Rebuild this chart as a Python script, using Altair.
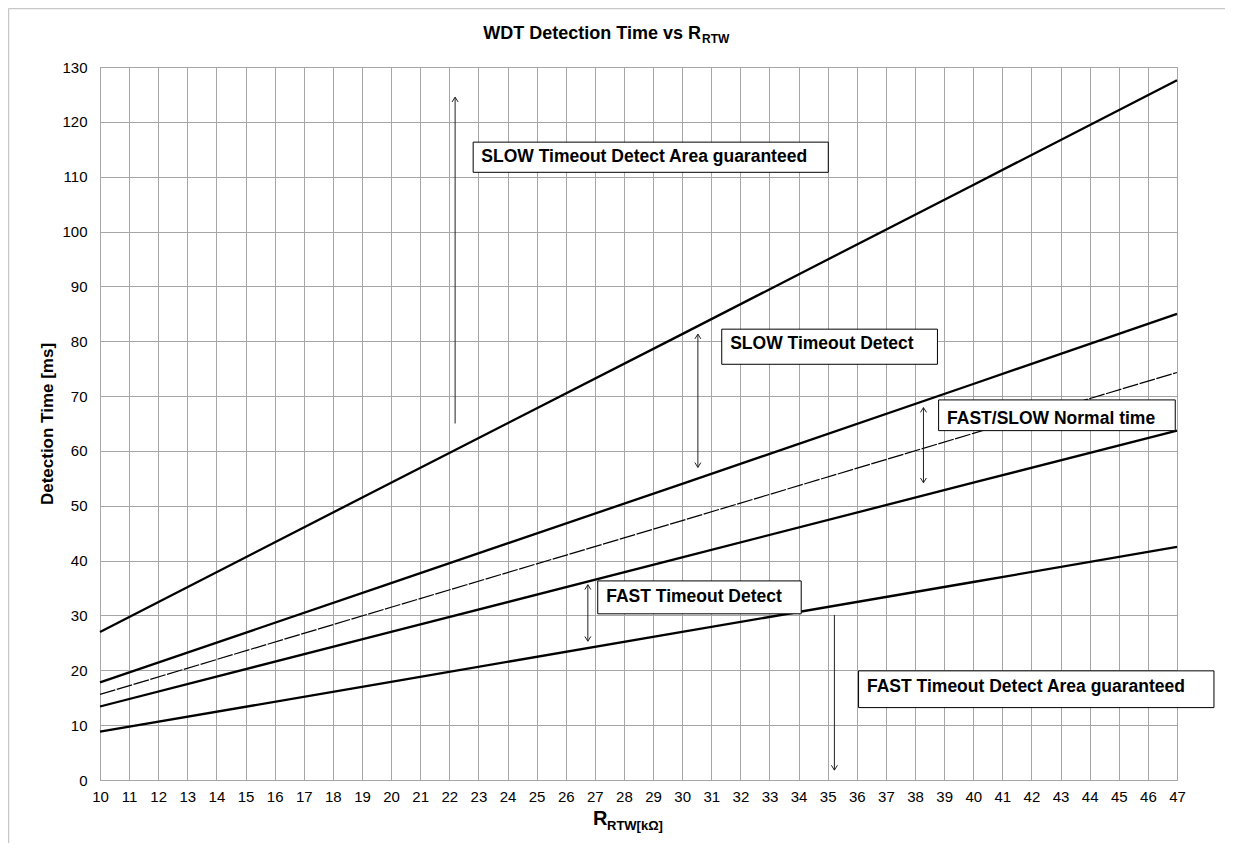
import altair as alt
import pandas as pd

# ---- data ----
R_pts = [10, 20, 30, 40, 47]
slow_max = [27.0, 54.2, 81.3, 108.5, 127.6]
slow_min = [17.8, 35.9, 54.0, 72.2, 85.0]
normal = [15.6, 31.5, 47.3, 63.2, 74.3]
fast_max = [13.4, 27.0, 40.6, 54.2, 63.7]
fast_min = [8.8, 17.9, 27.0, 36.1, 42.5]

x_ticks = list(range(10, 48))
y_ticks = list(range(0, 131, 10))

box_labels = ["SLOW Timeout Detect Area guaranteed", "SLOW Timeout Detect",
              "FAST/SLOW Normal time", "FAST Timeout Detect",
              "FAST Timeout Detect Area guaranteed"]
box_x1 = [22.82, 31.36, 38.81, 27.10, 36.06]
box_x2 = [35.02, 38.77, 46.94, 34.09, 48.27]
box_y1 = [116.3, 82.2, 69.3, 36.3, 19.9]
box_y2 = [110.8, 75.8, 63.7, 30.3, 13.2]
text_x = [23.10, 31.65, 39.10, 27.39, 36.35]
text_y = [112.7, 78.5, 65.0, 32.5, 16.0]

arrow_x = [22.2, 30.54, 38.29, 26.76, 35.23]
arrow_lo = [65.0, 57.0, 54.2, 25.3, 1.8]
arrow_hi = [124.5, 81.3, 67.9, 35.6, 30.1]
head_up = [True, True, True, True, False]
head_down = [False, True, True, True, True]

FONT = "Liberation Sans"

# ---- tables ----
solid_series = {"slow_max": slow_max, "slow_min": slow_min,
                "fast_max": fast_max, "fast_min": fast_min}
rows = []
for name, vals in solid_series.items():
    for r, v in zip(R_pts, vals):
        rows.append({"R": r, "v": v, "s": name})
solid_df = pd.DataFrame(rows)
dash_df = pd.DataFrame({"R": R_pts, "v": normal})

box_df = pd.DataFrame({"x1": box_x1, "x2": box_x2, "y1": box_y1, "y2": box_y2,
                       "tx": text_x, "ty": text_y, "label": box_labels})
arrow_df = pd.DataFrame({"x": arrow_x, "lo": arrow_lo, "hi": arrow_hi})
up_df = pd.DataFrame({"x": [a for a, u in zip(arrow_x, head_up) if u],
                      "y": [a for a, u in zip(arrow_hi, head_up) if u]})
down_df = pd.DataFrame({"x": [a for a, d in zip(arrow_x, head_down) if d],
                        "y": [a for a, d in zip(arrow_lo, head_down) if d]})

xscale = alt.Scale(domain=[10, 47], nice=False, zero=False)
yscale = alt.Scale(domain=[0, 130], nice=False)

x_axis = alt.Axis(values=x_ticks, grid=True, ticks=False, domain=False,
                  labelFontSize=15, labelPadding=9, labelOverlap=False,
                  labelFlush=False, labelBound=False, title=None)
y_axis = alt.Axis(values=y_ticks, grid=True, ticks=False, domain=False,
                  labelFontSize=15, labelPadding=13, title="Detection Time [ms]",
                  titleFontSize=17, titleFontWeight="bold", titleX=-53, titleY=356.5,
                  titleAngle=270, titleAlign="center", titleBaseline="middle")


def X(field):
    return alt.X(field, scale=xscale, axis=x_axis)


def Y(field):
    return alt.Y(field, scale=yscale, axis=y_axis)


lines = alt.Chart(solid_df).mark_line(color="black", strokeWidth=2.3).encode(
    x=X("R:Q"), y=Y("v:Q"), detail="s:N")
dashed = alt.Chart(dash_df).mark_line(color="black", strokeWidth=1.2,
                                      strokeDash=[16, 1.5]).encode(
    x=X("R:Q"), y=Y("v:Q"))

shafts = alt.Chart(arrow_df).mark_rule(color="#222222", strokeWidth=1).encode(
    x=X("x:Q"), y=Y("lo:Q"), y2="hi:Q")
heads_up = alt.Chart(up_df).mark_point(
    shape="M-0.5,0.8L0,0L0.5,0.8", size=144, filled=False, color="#222222",
    strokeWidth=1, opacity=1).encode(x=X("x:Q"), y=Y("y:Q"))
heads_down = alt.Chart(down_df).mark_point(
    shape="M-0.5,-0.8L0,0L0.5,-0.8", size=144, filled=False, color="#222222",
    strokeWidth=1, opacity=1).encode(x=X("x:Q"), y=Y("y:Q"))

boxes = alt.Chart(box_df).mark_rect(fill="white", stroke="black", strokeWidth=1).encode(
    x=X("x1:Q"), x2="x2:Q", y=Y("y1:Q"), y2="y2:Q")
box_text = alt.Chart(box_df).mark_text(align="left", baseline="alphabetic",
                                       font=FONT, fontSize=17.5, fontWeight="bold",
                                       color="black").encode(
    x=X("tx:Q"), y=Y("ty:Q"), text="label:N")


def txt(s, x, y, size, align="left"):
    return alt.Chart(pd.DataFrame({"t": [s]})).mark_text(
        align=align, baseline="alphabetic", font=FONT, fontSize=size,
        fontWeight="bold", color="black").encode(
        text="t:N", x=alt.value(x), y=alt.value(y))


title_main = txt("WDT Detection Time vs R", 383.3, -27.7, 18)
title_sub = txt("RTW", 602, -23.7, 12)
xt_main = txt("R", 493, 758, 20)
xt_sub = txt("RTW[kΩ]", 507, 763, 13)

frame_top = alt.Chart(pd.DataFrame({"a": [0]})).mark_rule(
    color="#c8c8c8", strokeWidth=1.5).encode(
    x=alt.value(-91.5), x2=alt.value(1140), y=alt.value(-58.5))
frame_left = alt.Chart(pd.DataFrame({"a": [0]})).mark_rule(
    color="#c8c8c8", strokeWidth=1.5).encode(
    x=alt.value(-91.5), y=alt.value(-58.5), y2=alt.value(800))

chart = alt.layer(
    lines, dashed, shafts, heads_up, heads_down, boxes, box_text,
    title_main, title_sub, xt_main, xt_sub, frame_top, frame_left,
).properties(
    width=1077, height=713,
    padding={"left": 92, "top": 59, "right": 48, "bottom": 63},
    autosize=alt.AutoSizeParams(type="none"),
    background="white",
).configure_view(
    stroke="#a0a0a0", strokeWidth=1
).configure_axis(
    gridColor="#a6a6a6", gridWidth=1, gridOpacity=1,
    labelColor="black", labelFont=FONT, titleFont=FONT, titleColor="black",
)

chart.save("out.html", embed_options={"renderer": "svg", "actions": False})
